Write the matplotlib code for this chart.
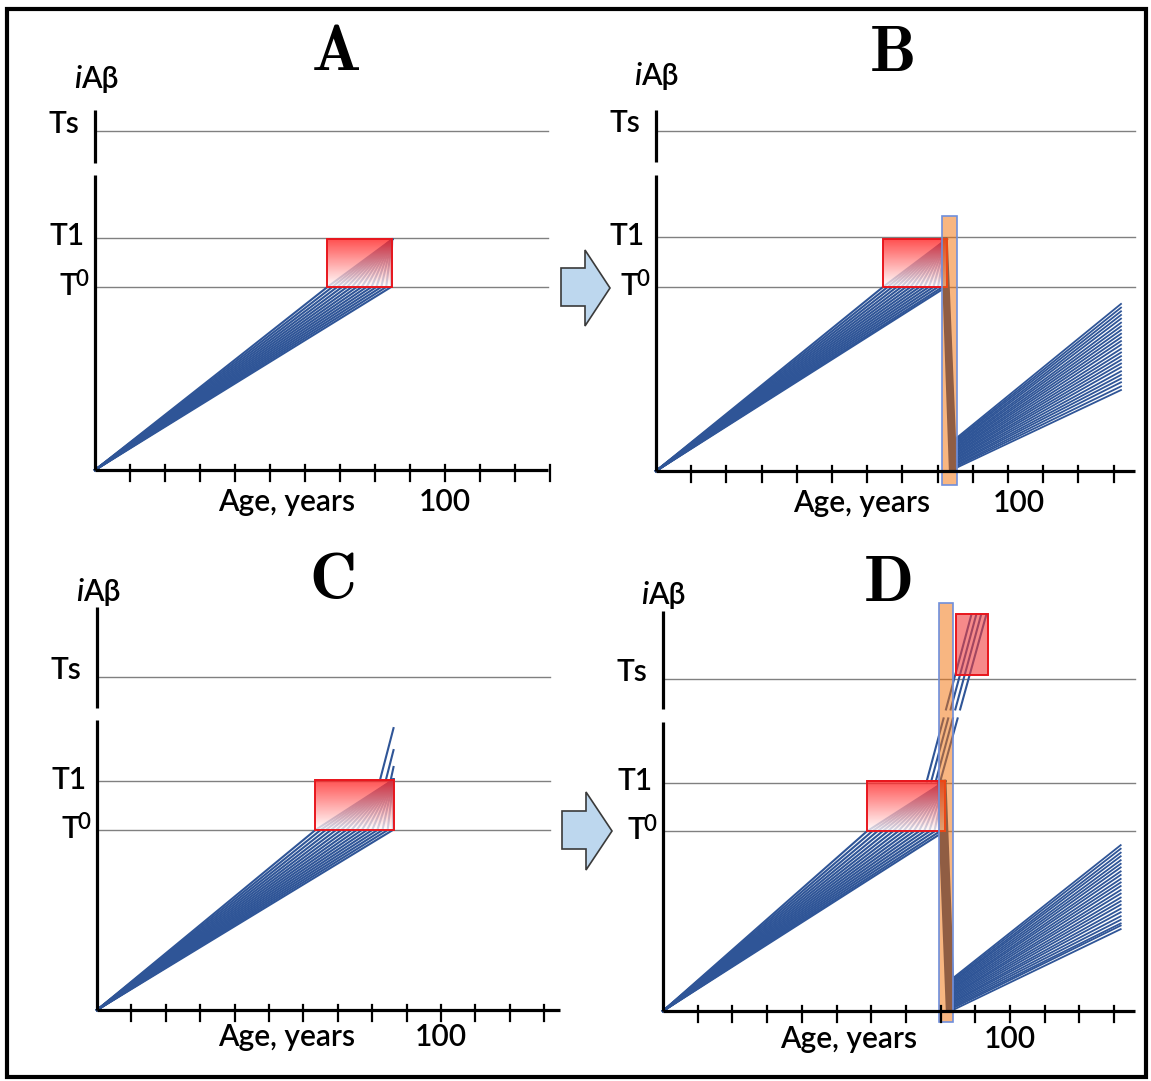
import matplotlib
matplotlib.use("Agg")
import matplotlib.pyplot as plt
from matplotlib.patches import Rectangle, Polygon
import numpy as np

plt.rcParams["mathtext.fontset"] = "cm"

W, H, DPI = 1151, 1081, 100
FONT = ["Lato", "DejaVu Sans"]
BLUE = "#2F5597"
RED = "#E8161D"
GREY = "#808080"

# iAβ thresholds and the break in the vertical axis
T0, T1, TS = 50.0, 63.5, 92.5
GAP_LO, GAP_HI = 80.5, 84.0
TICK_AGES = [10, 20, 30, 40, 50, 60, 70, 80, 90, 100, 110, 120, 130]

# A: iAβ accumulation reaching T0, trajectories enter the red zone
fan_a = [66.4, 67.8, 69.2, 70.6, 72.0, 73.4, 74.8, 76.2, 77.6, 79.0, 80.4, 81.8, 83.2, 84.6]
box_a = (66.4, 84.9, 63.0)

# B: transient depletion (orange bar) resets iAβ, then it re-accumulates
fan_b = [64.5, 65.8, 67.1, 68.4, 69.7, 71.0, 72.3, 73.6, 74.9, 76.2, 77.5, 78.8, 80.1, 81.4, 82.4]
box_b = (64.5, 82.6, 63.0)
drop_b_top = [81.3, 81.5, 81.7, 81.9, 82.1, 82.3, 82.5]
drop_b_bottom = [83.6, 83.9, 84.2, 84.5, 84.8, 85.0, 85.2]
bar_b = (81.3, 85.4, -3.7, 69.4)
regrow_b_age = (85.4, 132.1)
regrow_b_start = [9.0, 8.6, 8.3, 7.9, 7.6, 7.2, 6.9, 6.5, 6.2, 5.8, 5.5, 5.1,
                  4.8, 4.4, 4.1, 3.7, 3.4, 3.0, 2.7, 2.3, 2.0, 1.6, 1.3, 0.9]
regrow_b_end = [45.4, 44.4, 43.4, 42.4, 41.4, 40.3, 39.3, 38.3, 37.3, 36.3, 35.3, 34.3,
                33.2, 32.2, 31.2, 30.2, 29.2, 28.2, 27.1, 26.1, 25.1, 24.1, 23.0, 22.0]

# C: some trajectories rise past T1
fan_c = [63.5, 65.0, 66.5, 68.0, 69.5, 71.0, 72.5, 74.0, 75.5, 77.0, 78.5, 80.0, 81.5, 83.0, 84.5, 86.0]
box_c = (63.5, 86.2, 64.0)
rise_c_start = [82.3, 84.0, 85.4]
rise_c_end = [78.3, 72.2, 67.5]
rise_c_age = 86.2

# D: depletion applied after some trajectories already passed T1
fan_d = [58.7, 60.2, 61.7, 63.2, 64.7, 66.2, 67.7, 69.2, 70.7, 72.2, 73.7, 75.2, 76.7, 78.2, 79.7, 81.0]
box_d = (58.7, 81.3, 64.0)
rise_d_start = [76.0, 77.3, 78.6, 79.9]
rise_d_end = [88.9, 90.3, 91.7, 93.2]
rise_d_level = 110.5
box_ds = (84.5, 93.7, 93.5, 110.7)
drop_d_top = [79.3, 79.6, 79.9, 80.2, 80.5, 80.9, 81.3]
drop_d_bottom = [81.9, 82.2, 82.5, 82.8, 83.1, 83.5, 83.8]
bar_d = (79.4, 83.6, -3.1, 113.6)
regrow_d_age = (83.6, 131.9)
regrow_d_start = [9.2, 8.8, 8.4, 8.1, 7.7, 7.3, 6.9, 6.5, 6.2, 5.8, 5.4, 5.0,
                  4.6, 4.3, 3.9, 3.5, 3.1, 2.7, 2.4, 2.0, 1.6, 1.2, 0.8, 0.3]
regrow_d_end = [46.2, 45.2, 44.1, 43.1, 42.0, 41.0, 40.0, 38.9, 37.9, 36.8, 35.8, 34.8,
                33.7, 32.7, 31.6, 30.6, 29.6, 28.5, 27.5, 26.4, 25.4, 24.4, 23.8, 22.8]

# panel placement: origin in pixels, pixels per year / per level
LAYOUT = {
    "A": dict(ox=95, oy=470, sx=3.50, sy=3.66, ytop=98.4, xend=129.5, lend=129.5,
              title=(68.7, 114.2), ilab=(-4.0, 104.4), xlab=(54.6, -8.7), hund=100),
    "B": dict(ox=656, oy=471, sx=3.52, sy=3.68, ytop=98.0, xend=136.0, lend=136.0,
              title=(66.8, 113.6), ilab=(-4.2, 104.8), xlab=(58.5, -8.7), hund=103),
    "C": dict(ox=97, oy=1010, sx=3.44, sy=3.60, ytop=112.0, xend=134.6, lend=131.7,
              title=(68.3, 119.4), ilab=(-4.0, 113.6), xlab=(55.0, -7.5), hund=100),
    "D": dict(ox=663, oy=1011, sx=3.47, sy=3.59, ytop=111.4, xend=136.0, lend=136.0,
              title=(64.6, 119.2), ilab=(-4.3, 113.4), xlab=(53.6, -7.7), hund=100),
}
XL, YL = (-30, 145), (-15, 125)
TXT = dict(fontsize=21.5, family=FONT, weight="semibold")


def panel_axes(fig, lay):
    left = lay["ox"] + XL[0] * lay["sx"]
    top = lay["oy"] - YL[1] * lay["sy"]
    w = (XL[1] - XL[0]) * lay["sx"]
    h = (YL[1] - YL[0]) * lay["sy"]
    ax = fig.add_axes([left / W, 1 - (top + h) / H, w / W, h / H])
    ax.axis("off")
    ax.patch.set_visible(False)
    return ax


def frame(ax, name, lay):
    kw = dict(color="black", lw=2.3, solid_capstyle="butt", zorder=7)
    ax.plot([0, 0], [0, GAP_LO], **kw)
    ax.plot([0, 0], [GAP_HI, lay["ytop"]], **kw)
    ax.plot([0, lay["xend"]], [0, 0], **kw)
    for t in TICK_AGES:
        ax.plot([t, t], [-3.0, 1.4], color="black", lw=1.6, zorder=7)
    for lvl in (TS, T1, T0):
        ax.plot([0.6, lay["lend"]], [lvl, lvl], color=GREY, lw=1.0, zorder=1)

    ax.text(-4.6, TS - 0.5, "Ts", ha="right", va="baseline", **TXT)
    ax.text(-3.1, T1 - 2.0, "T1", ha="right", va="baseline", **TXT)
    ax.text(-5.1, T0 - 2.2, "T", ha="right", va="baseline", **TXT)
    ax.text(-5.6, T0 + 0.2, "0", ha="left", va="baseline", fontsize=16, family=FONT,
            weight="semibold")
    ix, iy = lay["ilab"]
    ax.text(ix, iy, "i", ha="right", va="baseline", style="italic", **TXT)
    ax.text(ix, iy, "Aβ", ha="left", va="baseline", **TXT)
    ax.text(*lay["xlab"], "Age, years", ha="center", va="center", **TXT)
    ax.text(lay["hund"], lay["xlab"][1], "100", ha="center", va="center", **TXT)
    ax.text(*lay["title"], r"$\mathbf{%s}$" % name, ha="center", va="center", fontsize=47)


def fan(ax, ages, box):
    x1, y1 = box[1], box[2]
    for a in ages:
        ax.plot([0, a, x1], [0, T0, y1], color=BLUE, lw=1.5, zorder=2)


def red_zone(ax, box):
    x0, x1, y1 = box
    n = 64
    frac = np.linspace(0, 1, n)[:, None]
    img = np.zeros((n, 1, 4))
    img[..., 0] = 1.0
    img[..., 1] = 0.12 + 0.88 * frac
    img[..., 2] = 0.12 + 0.88 * frac
    img[..., 3] = 0.78
    ax.imshow(img, extent=(x0, x1, T0, y1), aspect="auto", zorder=3,
              interpolation="bilinear")
    ax.add_patch(Rectangle((x0, T0), x1 - x0, y1 - T0, fill=False, ec=RED, lw=1.4, zorder=4))


def treatment_bar(ax, bar):
    x0, x1, y0, y1 = bar
    ax.add_patch(Rectangle((x0, y0), x1 - x0, y1 - y0, fc=(0.95, 0.45, 0.05),
                           alpha=0.52, lw=0, zorder=5))
    ax.add_patch(Rectangle((x0, y0), x1 - x0, y1 - y0, fill=False, ec="#6F8FDC",
                           lw=1.2, zorder=6))


def drop_and_regrow(ax, top_level, tops, bottoms, ages, starts, ends):
    for a, b in zip(tops, bottoms):
        ax.plot([a, b], [top_level, 0], color="#27477F", lw=2.0, zorder=2)
    for s, e in zip(starts, ends):
        ax.plot(ages, [s, e], color=BLUE, lw=1.3, zorder=2)


def finish(ax):
    ax.set_xlim(*XL)
    ax.set_ylim(*YL)


fig = plt.figure(figsize=(W / DPI, H / DPI), dpi=DPI)

# A
ax = panel_axes(fig, LAYOUT["A"])
frame(ax, "A", LAYOUT["A"])
fan(ax, fan_a, box_a)
red_zone(ax, box_a)
finish(ax)

# B
ax = panel_axes(fig, LAYOUT["B"])
frame(ax, "B", LAYOUT["B"])
fan(ax, fan_b, box_b)
red_zone(ax, box_b)
drop_and_regrow(ax, box_b[2], drop_b_top, drop_b_bottom, regrow_b_age,
                regrow_b_start, regrow_b_end)
treatment_bar(ax, bar_b)
finish(ax)

# C
ax = panel_axes(fig, LAYOUT["C"])
frame(ax, "C", LAYOUT["C"])
fan(ax, fan_c, box_c)
for a, lvl in zip(rise_c_start, rise_c_end):
    ax.plot([a, rise_c_age], [box_c[2], lvl], color=BLUE, lw=1.5, zorder=2)
red_zone(ax, box_c)
finish(ax)

# D
ax = panel_axes(fig, LAYOUT["D"])
frame(ax, "D", LAYOUT["D"])
fan(ax, fan_d, box_d)
for a, b in zip(rise_d_start, rise_d_end):
    lv = [box_d[2], rise_d_level]
    ag = [a, b]
    lo = np.interp(GAP_LO + 1.0, lv, ag)
    hi = np.interp(GAP_HI, lv, ag)
    ax.plot([a, lo], [box_d[2], GAP_LO + 1.0], color=BLUE, lw=1.5, zorder=2)
    ax.plot([hi, b], [GAP_HI, rise_d_level], color=BLUE, lw=1.5, zorder=2)
red_zone(ax, box_d)
x0, x1, y0, y1 = box_ds
ax.add_patch(Rectangle((x0, y0), x1 - x0, y1 - y0, fc="#F03C3C", alpha=0.6, lw=0, zorder=3))
ax.add_patch(Rectangle((x0, y0), x1 - x0, y1 - y0, fill=False, ec=RED, lw=1.4, zorder=4))
drop_and_regrow(ax, box_d[2], drop_d_top, drop_d_bottom, regrow_d_age,
                regrow_d_start, regrow_d_end)
treatment_bar(ax, bar_d)
finish(ax)

# block arrows between the panels
for pts in ([(561, 268), (585, 268), (585, 250), (610, 288), (585, 326), (585, 306), (561, 306)],
            [(562, 811), (586, 811), (586, 792), (612, 831), (586, 870), (586, 849), (562, 849)]):
    fig.patches.append(Polygon([(x / W, 1 - y / H) for x, y in pts], closed=True,
                               transform=fig.transFigure, fc="#BDD7EE", ec="#3A3A3A",
                               lw=1.2, figure=fig))

# outer border
fig.patches.append(Rectangle((7 / W, 1 - 1077 / H), 1139 / W, 1068 / H, fill=False,
                             ec="black", lw=3.0, transform=fig.transFigure, figure=fig))

fig.savefig("out.png", dpi=DPI)
